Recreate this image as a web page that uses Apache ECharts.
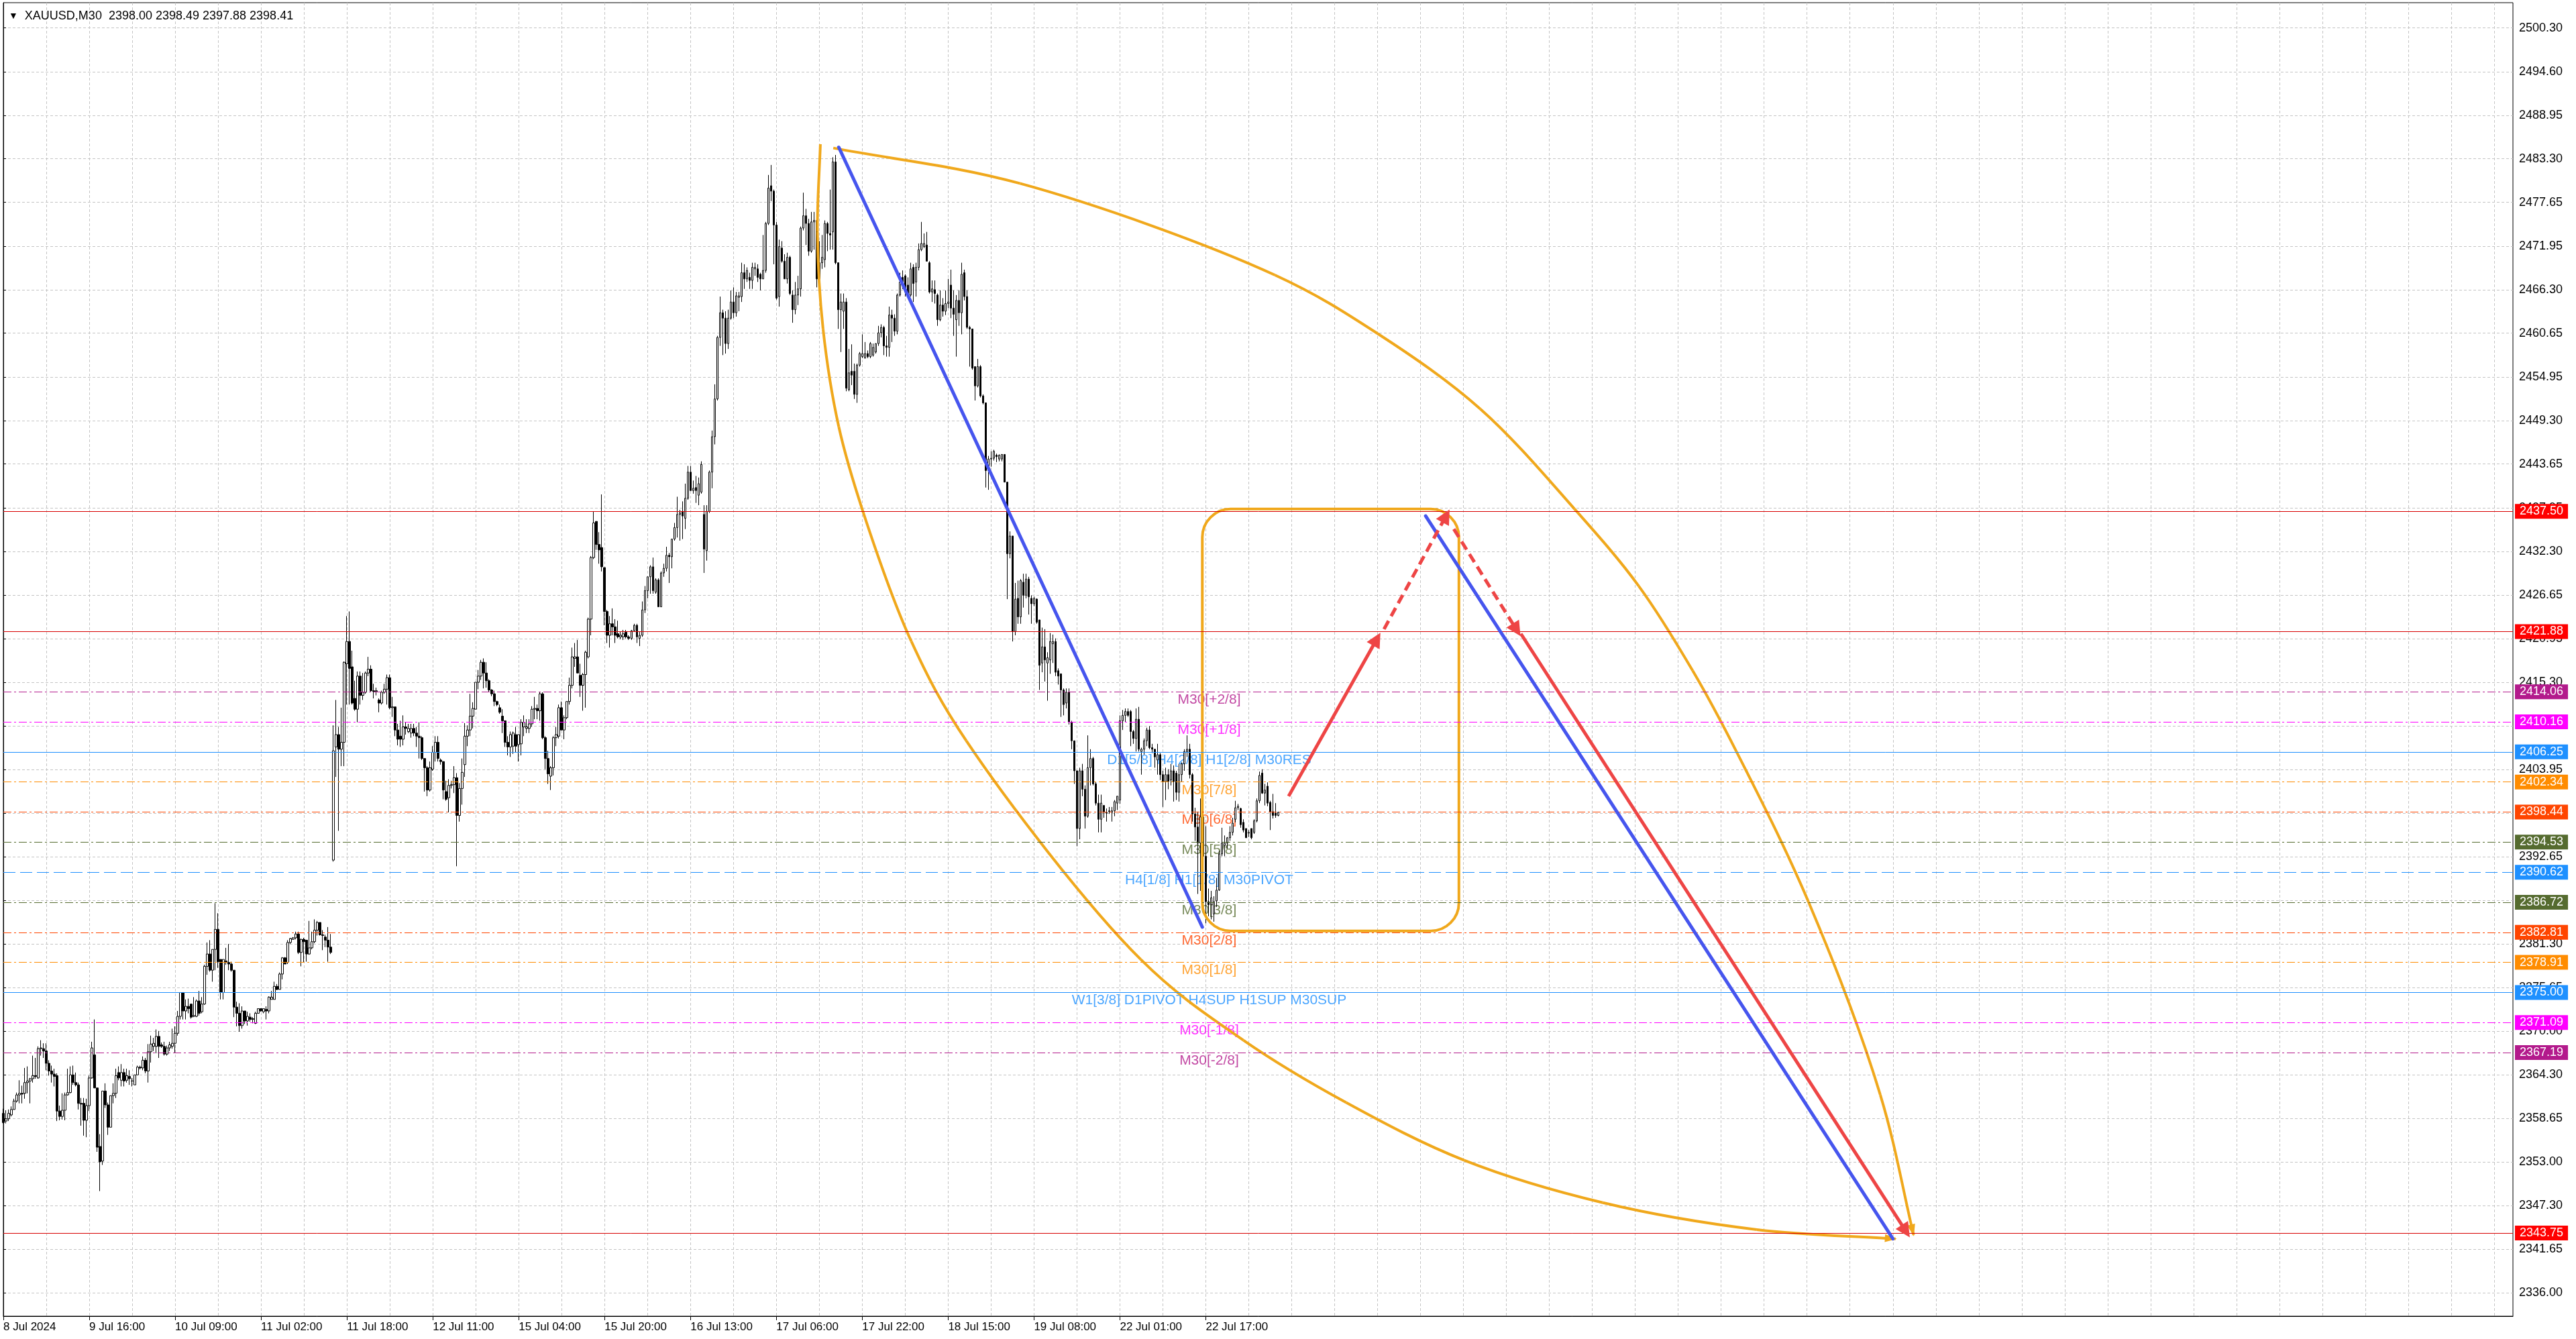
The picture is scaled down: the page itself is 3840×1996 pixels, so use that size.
<!DOCTYPE html>
<html><head><meta charset="utf-8">
<script src="https://cdn.jsdelivr.net/npm/echarts@6/dist/echarts.min.js"></script>
<style>html,body{margin:0;padding:0;background:#fff;overflow:hidden}#c{width:3840px;height:1996px}</style>
</head><body><div id="c"></div><script>
// ---------- data ----------
const header = 'XAUUSD,M30  2398.00 2398.49 2397.88 2398.41';
const timeLabels = ['8 Jul 2024','9 Jul 16:00','10 Jul 09:00','11 Jul 02:00','11 Jul 18:00','12 Jul 11:00','15 Jul 04:00','15 Jul 20:00','16 Jul 13:00','17 Jul 06:00','17 Jul 22:00','18 Jul 15:00','19 Jul 08:00','22 Jul 01:00','22 Jul 17:00'];
const barsPerLabel = 32;
const barsPerGrid = 16;
const totalSlots = 936;
const yTickLabels = [2336.00,2341.65,2347.30,2353.00,2358.65,2364.30,2370.00,2375.65,2381.30,2387.00,2392.65,2398.30,2403.95,2409.65,2415.30,2420.95,2426.65,2432.30,2437.95,2443.65,2449.30,2454.95,2460.65,2466.30,2471.95,2477.65,2483.30,2488.95,2494.60,2500.30];
const yMin = 2332.95, yMax = 2503.58;
// [open, high, low, close] per M30 bar
const ohlc = [
[2359.3,2359.9,2358.0,2358.1],[2358.3,2359.7,2358.0,2358.6],[2358.6,2359.8,2358.3,2359.3],[2359.1,2360.2,2358.9,2359.8],[2359.8,2361.2,2359.8,2360.9],
[2360.9,2362.0,2360.7,2361.7],[2361.7,2363.6,2360.6,2361.9],[2361.9,2362.9,2360.6,2361.8],[2361.9,2365.2,2361.2,2363.3],[2363.3,2365.4,2361.9,2363.5],
[2363.5,2363.9,2360.6,2363.8],[2363.8,2366.8,2363.3,2364.2],[2364.2,2366.5,2363.8,2364.1],[2363.9,2368.0,2363.8,2367.7],[2367.7,2368.8,2366.8,2367.8],
[2367.7,2368.4,2366.5,2367.4],[2367.4,2368.4,2364.9,2365.8],[2365.8,2366.2,2364.2,2364.8],[2364.8,2365.5,2363.3,2364.4],[2364.4,2365.1,2362.8,2364.1],
[2364.2,2364.5,2358.3,2359.6],[2359.6,2360.3,2358.4,2358.9],[2358.9,2361.9,2358.5,2359.7],[2359.7,2362.0,2358.4,2361.7],[2361.7,2365.1,2361.6,2362.0],
[2362.0,2365.4,2361.9,2364.3],[2364.3,2365.5,2363.0,2363.3],[2363.3,2364.6,2362.8,2363.0],[2363.0,2363.3,2359.8,2360.6],[2360.6,2361.3,2357.7,2360.5],
[2360.6,2361.3,2356.4,2358.4],[2358.4,2361.2,2356.2,2360.3],[2360.3,2364.2,2359.6,2363.9],[2363.9,2368.6,2363.8,2367.8],[2366.9,2371.5,2362.6,2362.6],
[2362.6,2362.6,2354.3,2354.9],[2355.0,2356.6,2349.2,2353.0],[2353.1,2362.2,2352.6,2362.2],[2362.2,2363.2,2360.0,2360.4],[2360.4,2360.7,2356.5,2357.5],
[2357.5,2361.6,2357.5,2361.6],[2361.6,2363.2,2360.6,2361.9],[2361.9,2365.1,2361.3,2364.2],[2364.6,2365.4,2363.6,2363.9],[2363.6,2365.7,2362.8,2364.6],
[2364.6,2365.1,2362.8,2363.5],[2363.6,2365.1,2363.3,2364.2],[2364.1,2364.9,2363.0,2363.8],[2363.5,2363.9,2362.8,2363.5],[2363.0,2364.3,2363.0,2364.3],
[2364.3,2365.5,2364.3,2365.3],[2365.3,2365.5,2365.0,2365.2],[2365.2,2366.7,2364.9,2366.2],[2366.2,2366.5,2364.5,2364.8],[2364.8,2368.3,2363.3,2367.3],
[2367.3,2369.4,2365.9,2368.3],[2368.0,2369.1,2367.4,2368.4],[2368.0,2370.2,2367.1,2369.3],[2369.3,2370.0,2366.5,2368.0],[2368.2,2368.5,2367.8,2368.0],
[2368.0,2368.6,2366.8,2367.0],[2367.0,2368.1,2366.8,2367.8],[2367.8,2368.6,2367.4,2368.2],[2368.0,2370.3,2367.7,2368.4],[2368.4,2370.6,2367.2,2369.7],
[2369.7,2372.6,2369.4,2371.9],[2371.9,2375.0,2371.5,2375.0],[2375.0,2375.0,2371.5,2372.6],[2372.6,2374.1,2371.5,2373.2],[2373.2,2374.2,2372.3,2372.9],
[2373.5,2373.5,2371.6,2371.8],[2371.9,2374.4,2371.8,2372.0],[2371.9,2374.1,2371.8,2373.9],[2373.9,2375.2,2372.0,2372.3],[2372.5,2374.4,2372.3,2373.5],
[2373.5,2378.6,2373.4,2378.4],[2378.4,2381.5,2377.3,2380.0],[2380.0,2381.8,2377.7,2377.9],[2377.9,2380.6,2376.4,2380.6],[2380.6,2386.6,2377.9,2383.2],
[2383.2,2385.3,2378.2,2379.0],[2379.3,2379.3,2374.1,2375.0],[2375.0,2379.3,2374.1,2379.3],[2379.1,2380.8,2378.6,2378.9],[2378.9,2381.3,2377.9,2378.7],
[2378.7,2379.0,2377.7,2377.9],[2377.9,2377.9,2371.8,2373.1],[2373.1,2373.8,2370.6,2372.3],[2372.3,2373.6,2369.9,2370.7],[2370.7,2373.2,2370.3,2372.6],
[2372.6,2372.6,2370.9,2371.3],[2371.3,2372.5,2370.7,2371.9],[2371.8,2372.3,2371.2,2371.5],[2371.5,2371.8,2371.0,2371.6],[2371.0,2372.5,2370.9,2372.3],
[2372.3,2372.9,2372.3,2372.9],[2372.9,2372.9,2372.5,2372.6],[2372.5,2372.9,2372.3,2372.9],[2372.8,2373.2,2371.5,2372.6],[2372.6,2374.5,2372.3,2374.4],
[2374.1,2375.2,2374.1,2374.4],[2374.1,2376.4,2374.1,2375.8],[2375.8,2376.1,2375.3,2375.4],[2375.4,2377.6,2375.4,2377.4],[2377.4,2379.6,2376.7,2379.5],
[2379.5,2379.6,2378.7,2378.7],[2378.9,2381.8,2378.7,2381.5],[2381.5,2382.1,2381.3,2382.0],[2381.9,2382.2,2381.9,2382.1],[2382.1,2382.9,2381.9,2382.6],
[2382.6,2382.9,2380.0,2380.2],[2380.2,2382.0,2378.4,2381.9],[2381.9,2382.1,2378.9,2381.6],[2381.8,2381.8,2379.0,2380.0],[2380.0,2384.3,2379.9,2380.8],
[2380.8,2382.9,2380.6,2381.6],[2381.6,2384.5,2381.4,2383.1],[2383.1,2384.3,2382.4,2384.1],[2384.1,2384.1,2382.4,2382.5],[2382.5,2383.1,2380.5,2382.4],
[2382.2,2382.5,2380.9,2381.8],[2381.8,2383.5,2379.0,2380.9],[2380.9,2382.6,2380.0,2380.2],[2392.2,2409.7,2392.0,2406.4],[2406.9,2413.0,2403.0,2408.5],
[2408.5,2409.5,2396.0,2406.6],[2406.6,2412.0,2404.4,2407.5],[2407.5,2418.0,2404.4,2417.9],[2417.7,2423.9,2412.4,2420.6],[2420.6,2424.5,2412.4,2417.1],
[2417.3,2419.4,2412.4,2412.6],[2413.2,2415.5,2411.6,2411.8],[2411.8,2416.7,2410.1,2416.1],[2416.1,2416.7,2412.4,2413.6],[2413.6,2416.5,2413.0,2414.0],
[2414.0,2416.7,2413.8,2416.5],[2416.5,2418.6,2416.1,2417.0],[2417.0,2417.5,2414.0,2414.2],[2414.2,2415.1,2413.2,2414.1],[2414.1,2414.6,2413.6,2414.2],
[2413.0,2413.2,2411.4,2412.6],[2412.6,2414.2,2412.4,2414.0],[2414.0,2415.1,2413.8,2414.4],[2414.4,2416.3,2412.4,2415.9],[2415.9,2416.3,2411.8,2412.0],
[2412.0,2413.4,2410.8,2412.1],[2412.1,2412.1,2408.3,2409.1],[2409.1,2409.9,2407.1,2407.9],[2408.3,2410.3,2406.9,2407.9],[2407.9,2411.0,2407.1,2409.5],
[2409.5,2410.1,2408.5,2409.3],[2408.9,2409.9,2408.7,2409.3],[2408.7,2409.9,2408.1,2409.3],[2409.3,2409.9,2408.3,2408.7],[2408.7,2409.5,2406.9,2408.3],
[2408.3,2410.1,2405.4,2408.1],[2408.1,2408.3,2405.2,2405.4],[2405.4,2405.4,2401.1,2404.2],[2404.2,2404.4,2400.5,2401.3],[2401.3,2405.0,2401.1,2404.2],
[2404.0,2407.0,2403.8,2406.2],[2406.2,2408.3,2405.0,2407.5],[2407.5,2408.3,2405.0,2405.4],[2405.2,2405.4,2404.6,2405.0],[2405.0,2405.0,2400.1,2401.3],
[2401.1,2402.5,2399.9,2400.1],[2400.3,2402.7,2398.4,2401.9],[2401.9,2402.5,2401.5,2402.0],[2402.0,2404.4,2400.9,2402.9],[2402.9,2403.5,2391.4,2398.0],
[2398.0,2402.2,2397.2,2401.5],[2401.5,2405.4,2399.4,2403.6],[2404.6,2410.0,2403.0,2408.3],[2408.3,2409.7,2407.0,2409.1],[2409.1,2413.8,2408.3,2410.9],
[2410.9,2412.7,2409.3,2411.9],[2411.8,2415.3,2411.8,2415.3],[2415.3,2416.9,2414.4,2416.1],[2416.1,2418.2,2415.6,2417.9],[2417.9,2418.4,2414.5,2416.5],
[2416.5,2417.9,2414.6,2415.5],[2415.5,2415.7,2414.0,2414.3],[2414.3,2414.4,2413.5,2413.8],[2413.8,2414.2,2412.2,2412.8],[2412.8,2412.9,2412.2,2412.4],
[2412.0,2412.4,2411.2,2411.4],[2410.9,2411.8,2408.7,2410.3],[2410.3,2410.3,2406.9,2407.5],[2407.5,2408.3,2405.8,2406.9],[2406.9,2408.9,2405.6,2408.5],
[2407.0,2408.9,2406.0,2408.7],[2408.5,2409.5,2406.2,2407.0],[2407.2,2408.5,2405.0,2408.5],[2407.3,2410.5,2405.8,2410.1],[2409.5,2411.0,2408.3,2410.1],
[2409.3,2410.5,2408.7,2409.5],[2409.3,2410.5,2408.7,2409.9],[2409.9,2412.2,2409.5,2411.8],[2411.8,2413.4,2410.5,2411.9],[2411.9,2412.4,2410.5,2411.6],
[2411.6,2414.0,2410.3,2413.8],[2413.8,2414.0,2407.9,2408.1],[2408.1,2408.3,2404.0,2405.4],[2405.4,2406.4,2402.1,2403.4],[2403.1,2404.4,2401.3,2404.2],
[2404.2,2408.3,2403.2,2408.1],[2408.1,2409.5,2407.0,2408.5],[2408.3,2412.4,2408.0,2412.0],[2412.0,2412.8,2409.1,2409.1],[2409.1,2411.0,2407.9,2410.7],
[2410.7,2412.8,2410.5,2412.8],[2412.8,2415.9,2412.4,2414.9],[2414.9,2419.8,2414.5,2418.6],[2418.4,2420.4,2417.3,2418.6],[2418.6,2420.8,2416.5,2416.5],
[2416.2,2417.7,2413.4,2414.9],[2414.9,2416.5,2411.6,2416.3],[2416.3,2419.4,2412.0,2419.2],[2418.6,2423.7,2418.4,2423.5],[2423.5,2431.7,2421.4,2431.5],
[2431.5,2437.5,2431.3,2436.0],[2436.2,2436.2,2432.5,2433.2],[2433.2,2434.8,2430.7,2432.5],[2432.8,2439.7,2429.7,2430.3],[2430.2,2430.2,2422.7,2424.5],
[2424.5,2424.7,2420.4,2421.4],[2421.4,2423.9,2419.8,2422.9],[2422.9,2424.9,2421.4,2422.5],[2422.5,2423.5,2420.4,2421.4],[2421.6,2423.3,2421.0,2421.2],
[2421.2,2421.9,2420.9,2421.4],[2421.2,2422.1,2420.8,2421.6],[2421.8,2422.1,2421.0,2421.2],[2421.2,2421.4,2420.8,2421.0],[2421.0,2422.1,2420.8,2422.0],
[2422.0,2422.9,2421.9,2422.7],[2422.7,2422.9,2420.4,2421.2],[2421.0,2421.9,2420.0,2421.4],[2421.4,2425.8,2421.2,2424.7],[2424.7,2427.8,2424.3,2427.2],
[2427.2,2429.0,2426.2,2429.0],[2429.0,2430.5,2426.8,2430.3],[2430.3,2431.5,2426.8,2427.2],[2427.0,2428.8,2426.8,2428.6],[2428.6,2428.8,2425.1,2425.1],
[2425.1,2429.7,2425.1,2429.5],[2429.5,2430.7,2429.0,2430.1],[2430.1,2432.9,2429.7,2431.8],[2431.8,2432.1,2428.2,2431.6],[2431.6,2433.9,2430.1,2433.9],
[2433.9,2436.0,2433.7,2435.4],[2435.4,2439.4,2434.1,2437.1],[2437.1,2437.7,2433.7,2437.3],[2437.5,2438.8,2433.9,2436.9],[2436.6,2441.1,2435.2,2439.2],
[2439.2,2443.4,2439.0,2442.6],[2442.6,2443.4,2440.2,2440.2],[2440.2,2441.5,2439.8,2440.5],[2440.6,2442.1,2438.6,2440.2],[2439.6,2441.9,2438.3,2441.1],
[2440.0,2444.0,2439.8,2443.6],[2437.1,2438.3,2429.5,2432.6],[2432.4,2438.3,2431.1,2437.5],[2437.5,2442.8,2437.3,2442.6],[2442.6,2448.0,2440.5,2447.2],
[2447.2,2454.0,2446.2,2452.1],[2452.1,2460.3,2451.9,2460.1],[2460.1,2465.4,2459.0,2463.3],[2463.3,2463.7,2457.8,2462.6],[2462.6,2463.5,2458.0,2459.3],
[2459.3,2463.7,2458.6,2462.6],[2462.6,2466.2,2462.4,2464.7],[2464.7,2466.6,2462.6,2463.3],[2463.3,2466.0,2462.8,2465.5],[2465.3,2466.0,2463.5,2465.5],
[2465.4,2469.8,2464.7,2468.5],[2468.5,2469.6,2466.4,2467.7],[2467.7,2469.2,2467.3,2468.8],[2467.9,2468.5,2466.4,2467.5],[2467.5,2469.8,2466.4,2469.2],
[2469.0,2469.8,2468.1,2469.2],[2469.0,2469.6,2467.3,2467.9],[2468.3,2468.5,2466.2,2467.7],[2467.7,2473.4,2467.7,2468.8],[2468.8,2475.1,2468.5,2474.9],
[2474.9,2481.2,2474.7,2479.5],[2479.8,2482.5,2477.8,2479.1],[2479.1,2479.3,2469.6,2474.7],[2474.7,2475.1,2465.0,2465.2],[2465.4,2472.8,2464.1,2471.9],
[2471.7,2472.6,2469.8,2470.0],[2470.0,2470.9,2467.7,2467.7],[2467.7,2471.1,2467.1,2470.5],[2470.5,2470.7,2465.6,2465.8],[2465.6,2466.2,2462.0,2463.7],
[2463.7,2467.3,2463.1,2465.6],[2465.6,2468.1,2464.3,2466.4],[2466.4,2474.5,2465.4,2474.3],[2474.3,2478.9,2474.0,2475.9],[2475.9,2476.8,2472.1,2474.9],
[2474.9,2475.5,2470.7,2471.3],[2471.3,2476.4,2471.1,2475.1],[2475.1,2476.4,2471.5,2475.3],[2475.3,2475.3,2466.6,2467.7],[2467.7,2472.6,2467.1,2469.8],
[2469.8,2473.4,2469.0,2470.5],[2470.2,2475.3,2469.2,2474.9],[2474.9,2475.1,2471.3,2473.6],[2473.6,2479.3,2471.5,2473.4],[2473.8,2483.5,2471.5,2482.9],
[2482.9,2483.8,2469.6,2469.8],[2469.8,2469.8,2461.2,2463.7],[2463.7,2465.8,2458.2,2464.7],[2463.5,2465.8,2461.2,2464.7],[2464.7,2465.2,2453.1,2453.5],
[2453.3,2458.6,2453.1,2455.5],[2455.7,2459.2,2453.9,2455.2],[2455.7,2456.7,2452.1,2452.7],[2452.7,2456.7,2451.6,2456.5],[2456.5,2458.2,2456.3,2458.0],
[2457.6,2460.5,2457.4,2458.0],[2457.4,2459.5,2457.4,2458.0],[2458.0,2458.4,2457.4,2457.6],[2457.6,2459.5,2457.4,2459.3],[2457.8,2459.3,2457.6,2458.8],
[2458.2,2459.3,2458.0,2459.3],[2459.3,2461.6,2459.0,2460.7],[2460.7,2461.8,2460.1,2461.4],[2461.4,2461.6,2457.8,2459.0],[2459.0,2460.3,2457.6,2458.8],
[2458.8,2464.1,2457.6,2463.0],[2463.0,2463.7,2459.5,2462.6],[2462.6,2463.1,2460.3,2460.9],[2460.9,2465.8,2460.5,2465.6],[2465.6,2468.5,2465.4,2467.3],
[2467.9,2468.8,2466.4,2467.1],[2468.1,2468.3,2465.4,2466.0],[2466.9,2467.9,2465.4,2465.8],[2465.6,2469.8,2465.4,2469.0],[2469.2,2469.6,2464.7,2467.1],
[2467.3,2469.8,2465.4,2469.2],[2469.2,2472.3,2468.8,2471.5],[2471.5,2475.1,2471.3,2472.3],[2471.9,2473.6,2471.7,2472.3],[2472.1,2473.8,2470.0,2470.0],
[2469.8,2470.0,2465.8,2466.0],[2466.0,2467.5,2464.7,2466.4],[2466.3,2467.5,2464.5,2465.8],[2465.6,2465.8,2461.6,2462.4],[2462.4,2466.2,2462.2,2464.3],
[2464.3,2465.2,2462.8,2463.5],[2463.5,2466.2,2463.0,2464.5],[2464.5,2467.7,2463.9,2464.7],[2466.9,2468.9,2462.6,2463.9],[2463.9,2466.2,2460.3,2463.1],
[2462.4,2465.6,2457.6,2464.9],[2464.9,2466.2,2461.6,2463.3],[2463.3,2469.8,2460.5,2468.3],[2468.5,2468.9,2464.9,2465.4],[2465.4,2466.2,2461.2,2461.4],
[2461.4,2461.6,2456.3,2461.2],[2461.2,2461.2,2455.9,2456.1],[2456.3,2456.3,2451.9,2453.8],[2453.8,2457.3,2453.6,2456.3],[2456.3,2456.5,2452.3,2452.5],
[2452.5,2452.7,2451.4,2451.6],[2451.6,2451.6,2440.6,2442.8],[2442.8,2444.7,2440.3,2444.3],[2444.3,2445.3,2443.3,2444.4],[2444.4,2445.5,2444.1,2445.3],
[2444.8,2445.0,2443.9,2444.6],[2444.3,2444.9,2444.0,2444.8],[2444.3,2444.9,2444.0,2444.9],[2444.9,2444.9,2441.3,2441.3],[2441.3,2441.3,2426.1,2432.0],
[2432.0,2434.9,2431.4,2434.3],[2434.3,2434.3,2420.6,2421.9],[2421.9,2428.2,2421.4,2426.1],[2426.2,2428.5,2422.9,2423.8],[2423.8,2428.7,2422.9,2428.5],
[2428.3,2429.4,2425.0,2426.6],[2426.6,2429.4,2426.2,2428.7],[2428.7,2429.0,2424.1,2426.4],[2426.2,2426.6,2422.9,2425.5],[2425.5,2426.4,2425.2,2426.2],
[2426.1,2426.2,2422.9,2423.1],[2423.4,2423.4,2414.3,2417.5],[2417.8,2422.4,2416.6,2419.9],[2419.9,2422.2,2415.4,2418.2],[2417.8,2419.2,2412.9,2418.5],
[2418.2,2421.7,2416.4,2420.6],[2420.3,2421.5,2417.8,2420.6],[2420.6,2421.0,2416.1,2416.6],[2416.8,2417.1,2415.0,2416.1],[2416.4,2416.4,2410.8,2414.3],
[2414.3,2414.5,2411.0,2412.4],[2412.6,2414.5,2411.9,2414.0],[2414.0,2414.5,2409.8,2410.1],[2410.1,2410.3,2406.6,2407.7],[2407.7,2407.7,2402.1,2403.8],
[2403.8,2403.8,2394.0,2396.3],[2396.3,2404.2,2394.9,2403.8],[2403.8,2404.7,2400.5,2401.4],[2401.4,2401.9,2396.3,2397.9],[2397.9,2408.4,2397.7,2404.2],
[2404.2,2406.6,2401.9,2405.4],[2405.4,2405.6,2401.9,2402.1],[2402.1,2402.4,2399.3,2399.6],[2399.6,2400.7,2395.8,2397.5],[2397.5,2400.7,2395.8,2399.6],
[2399.3,2399.3,2397.7,2398.4],[2398.4,2398.9,2397.2,2398.3],[2398.5,2399.1,2398.2,2398.6],[2398.4,2399.1,2397.2,2398.6],[2398.6,2400.0,2397.9,2399.8],
[2399.6,2400.5,2398.7,2400.5],[2400.0,2411.0,2399.5,2410.3],[2410.3,2411.7,2409.1,2411.0],[2411.0,2411.9,2410.1,2411.5],[2411.5,2411.9,2410.8,2411.0],
[2411.5,2411.7,2407.0,2408.9],[2408.9,2409.1,2407.3,2408.0],[2408.0,2411.9,2406.3,2410.5],[2410.5,2412.1,2406.3,2406.6],[2406.3,2406.8,2403.3,2406.6],
[2406.6,2408.0,2405.9,2407.7],[2407.7,2409.4,2407.0,2409.1],[2409.1,2409.6,2406.6,2406.8],[2406.8,2407.3,2406.1,2406.6],[2406.6,2406.6,2404.2,2405.6],
[2405.2,2407.3,2403.3,2405.9],[2405.9,2406.1,2402.6,2403.3],[2403.3,2403.8,2399.1,2402.4],[2402.4,2404.2,2400.0,2403.3],[2403.3,2404.0,2401.4,2402.4],
[2402.6,2404.7,2401.9,2403.8],[2403.8,2404.5,2399.8,2402.4],[2403.5,2403.8,2400.0,2401.0],[2401.0,2404.7,2399.8,2403.3],[2403.3,2404.9,2402.4,2404.7],
[2404.7,2406.6,2403.8,2406.3],[2406.3,2408.4,2405.6,2406.6],[2406.6,2407.3,2402.8,2403.3],[2403.3,2403.5,2397.2,2398.2],[2398.2,2399.0,2394.7,2396.5],
[2396.5,2398.5,2387.8,2394.4],[2394.4,2400.2,2388.2,2397.8],[2397.8,2399.0,2389.5,2392.7],[2392.7,2396.6,2384.0,2386.8],[2386.8,2388.5,2384.9,2386.4],
[2386.4,2388.2,2384.5,2387.3],[2385.2,2387.5,2384.2,2386.8],[2386.9,2389.9,2386.1,2388.3],[2388.3,2393.4,2388.2,2393.0],[2393.0,2396.4,2392.7,2394.4],
[2394.1,2395.4,2392.7,2394.4],[2394.4,2395.2,2393.7,2395.1],[2395.1,2396.6,2394.7,2395.8],[2395.8,2397.7,2395.4,2397.0],[2397.5,2399.9,2397.1,2399.0],
[2399.0,2399.5,2398.7,2399.2],[2398.9,2399.0,2396.4,2396.8],[2397.1,2397.5,2395.8,2396.1],[2396.3,2396.3,2395.1,2395.1],[2395.7,2396.1,2395.2,2395.8],
[2396.3,2396.3,2394.9,2395.1],[2395.8,2397.5,2395.6,2397.3],[2397.3,2400.2,2397.1,2399.9],[2399.9,2403.7,2399.6,2403.2],[2403.5,2404.0,2400.8,2400.9],
[2400.9,2402.1,2399.3,2401.3],[2401.8,2402.3,2399.2,2399.6],[2399.7,2399.9,2396.1,2398.5],[2398.5,2400.8,2397.6,2398.0],[2398.3,2399.6,2397.7,2398.0],
[2398.00,2398.49,2397.88,2398.41]
];
const levelPrices = [2437.50,2421.88,2414.06,2410.16,2406.25,2402.34,2398.44,2394.53,2390.62,2386.72,2382.81,2378.91,2375.00,2371.09,2367.19,2343.75];
const levelNames = ['','','M30[+2/8]','M30[+1/8]','D1[5/8] H4[2/8] H1[2/8] M30RES','M30[7/8]','M30[6/8]','M30[5/8]','H4[1/8] H1[1/8] M30PIVOT','M30[3/8]','M30[2/8]','M30[1/8]','W1[3/8] D1PIVOT H4SUP H1SUP M30SUP','M30[-1/8]','M30[-2/8]',''];
const currentPrice = 2398.41;
const levelNameBar = 449.25;
// drawings: [bar1, price1, bar2, price2]
const blueLines = [[311.25,2484.8,446.7,2383.5],[529.9,2436.9,704.0,2343.0]];
const solidArrows = [[478.85,2400.5,511.7,2420.9],[565.4,2421.6,708.8,2344.0]];
const dashedArrows = [[514.4,2422.2,537.5,2436.9],[540.4,2435.2,563.8,2422.1]];
const zoneRect = [446.7,2437.8,542.3,2383.0];
const leftArc = [[304.4,2485.2],[303.3,2473.8],[305.4,2461.2],[311.25,2448.5],[320.25,2437.5],[338.3,2420.6],[358.75,2407.7],[423.75,2379.3],[462.0,2368.8],[500.3,2360.7],[544.3,2353.2],[595.9,2347.7],[653.3,2344.2],[705.0,2343.0]];
const rightArc = [[309.2,2484.7],[378.75,2480.1],[473.75,2468.2],[512.0,2460.6],[550.3,2450.8],[585.4,2437.8],[609.3,2427.8],[629.4,2416.8],[645.7,2406.3],[672.5,2386.8],[699.3,2361.7],[711.7,2343.5]];
const arcs = [leftArc, rightArc];

// ---------- styles ----------
const FONT = '"Liberation Sans", Arial, sans-serif';
const RED = '#FF0000', PURPLE = '#B31A8C', MAGENTA = '#FF00FF', BLUE = '#1E90FF', ORANGE = '#FF8C00', ORED = '#FF4500', OLIVE = '#556B2F';
const levelColors = [RED,RED,PURPLE,MAGENTA,BLUE,ORANGE,ORED,OLIVE,BLUE,OLIVE,ORED,ORANGE,BLUE,MAGENTA,PURPLE,RED];
const DASHDOT = [12,4,3,4];
const levelTypes = ['solid','solid',DASHDOT,DASHDOT,'solid',DASHDOT,DASHDOT,DASHDOT,[18,7],DASHDOT,DASHDOT,DASHDOT,'solid',DASHDOT,DASHDOT,'solid'];
const DRAW_BLUE = '#4655EE', DRAW_RED = '#EE4545', DRAW_ORANGE = '#F0A81C';

const chart = echarts.init(document.getElementById('c'), null, {renderer: 'canvas'});
const categories = Array.from({length: totalSlots}, (_, i) => String(i));
const labelInterval = (i) => i % barsPerLabel === 0 && i / barsPerLabel < timeLabels.length;

const markLineData = [];
levelPrices.forEach((p, i) => {
  if (p === 2398.44) {
    markLineData.push({yAxis: currentPrice, lineStyle: {opacity: 0}, label: {show: true, position: 'end', distance: 3, formatter: currentPrice.toFixed(2), backgroundColor: '#000', color: '#fff', padding: [6,7,2,7], fontSize: 18, fontFamily: FONT, offset: [0,-3]}});
  }
  markLineData.push({
    yAxis: p,
    lineStyle: {color: levelColors[i] === RED ? '#D80000' : levelColors[i], width: 1, type: levelTypes[i]},
    label: {show: true, position: 'end', distance: 3, formatter: p.toFixed(2), backgroundColor: levelColors[i], color: '#fff', padding: [3,7,1,7], fontSize: 18, fontFamily: FONT}
  });
});

const nameData = [];
levelPrices.forEach((p, i) => {
  if (!levelNames[i]) return;
  nameData.push({value: [levelNameBar, p], label: {show: true, formatter: levelNames[i], color: levelColors[i]}});
});

const seg = (a) => ({coords: [[a[0], a[1]], [a[2], a[3]]]});

// centripetal Catmull-Rom through pixel points -> bezier segments
function splineChildren(pts, color, width) {
  const P = pts.slice();
  const first = [2 * P[0][0] - P[1][0], 2 * P[0][1] - P[1][1]];
  const n = P.length;
  const last = [2 * P[n - 1][0] - P[n - 2][0], 2 * P[n - 1][1] - P[n - 2][1]];
  const Q = [first].concat(P, [last]);
  const children = [];
  let lastCp = null;
  for (let i = 1; i < Q.length - 2; i++) {
    const p0 = Q[i - 1], p1 = Q[i], p2 = Q[i + 1], p3 = Q[i + 2];
    const d1 = Math.pow(Math.hypot(p1[0] - p0[0], p1[1] - p0[1]), 0.5) || 1e-6;
    const d2 = Math.pow(Math.hypot(p2[0] - p1[0], p2[1] - p1[1]), 0.5) || 1e-6;
    const d3 = Math.pow(Math.hypot(p3[0] - p2[0], p3[1] - p2[1]), 0.5) || 1e-6;
    const b1 = [0, 1].map(k => (d1 * d1 * p2[k] - d2 * d2 * p0[k] + (2 * d1 * d1 + 3 * d1 * d2 + d2 * d2) * p1[k]) / (3 * d1 * (d1 + d2)));
    const b2 = [0, 1].map(k => (d3 * d3 * p1[k] - d2 * d2 * p3[k] + (2 * d3 * d3 + 3 * d3 * d2 + d2 * d2) * p2[k]) / (3 * d3 * (d3 + d2)));
    children.push({type: 'bezierCurve', shape: {x1: p1[0], y1: p1[1], x2: p2[0], y2: p2[1], cpx1: b1[0], cpy1: b1[1], cpx2: b2[0], cpy2: b2[1]}, style: {fill: 'none', stroke: color, lineWidth: width}});
    lastCp = b2;
  }
  const end = P[n - 1];
  let dx = end[0] - lastCp[0], dy = end[1] - lastCp[1];
  const L = Math.hypot(dx, dy) || 1; dx /= L; dy /= L;
  const len = 16, half = 6;
  const bx = end[0] - dx * len, by = end[1] - dy * len;
  children.push({type: 'polygon', shape: {points: [[end[0] + dx * 2, end[1] + dy * 2], [bx - dy * half, by + dx * half], [bx + dy * half, by - dx * half]]}, style: {fill: color}});
  return children;
}

const option = {
  animation: false,
  backgroundColor: '#fff',
  title: {
    text: '{t|▼}  ' + header, left: 8, top: 10,
    textStyle: {fontSize: 18, fontWeight: 'normal', color: '#000', fontFamily: FONT, rich: {t: {fontSize: 14, color: '#000'}}}
  },
  grid: {left: 5, right: 94, top: 4, bottom: 34, show: true, borderColor: '#000', borderWidth: 1, backgroundColor: '#fff'},
  xAxis: [{
    type: 'category', data: categories, boundaryGap: false,
    axisLine: {show: true, lineStyle: {color: '#000', width: 1}},
    axisTick: {show: true, interval: labelInterval, length: 6, lineStyle: {color: '#000'}},
    axisLabel: {interval: labelInterval, formatter: (v) => timeLabels[Number(v) / barsPerLabel], align: 'left', margin: 8, fontSize: 17, color: '#000', fontFamily: FONT},
    splitLine: {show: true, interval: (i) => i % barsPerGrid === 0, lineStyle: {color: '#C4C4C4', width: 1, type: [4,3]}}
  }, {
    type: 'value', min: 0, max: totalSlots - 1, show: false
  }],
  yAxis: [{
    type: 'value', position: 'right', min: yMin, max: yMax,
    axisLine: {show: true, lineStyle: {color: '#000', width: 1}},
    axisTick: {show: true, customValues: yTickLabels, length: 4, lineStyle: {color: '#000'}},
    axisLabel: {customValues: yTickLabels, formatter: (v) => Number(v).toFixed(2), margin: 9, fontSize: 18, color: '#000', fontFamily: FONT},
    splitLine: {show: true, lineStyle: {color: '#C4C4C4', width: 1, type: [4,3]}}
  }],
  series: [
    {
      type: 'line', xAxisIndex: 1, yAxisIndex: 0, data: [], z: 1, silent: true,
      markLine: {silent: true, symbol: ['none','none'], animation: false, data: markLineData}
    },
    {
      type: 'scatter', xAxisIndex: 1, yAxisIndex: 0, z: 2, silent: true,
      symbol: 'circle', symbolSize: 1, itemStyle: {color: 'rgba(0,0,0,0)'},
      label: {show: true, position: 'bottom', distance: 1, fontSize: 21, fontFamily: FONT},
      labelLayout: {hideOverlap: false},
      data: nameData
    },
    {
      type: 'candlestick', xAxisIndex: 0, yAxisIndex: 0, z: 3, barWidth: 3,
      itemStyle: {color: '#fff', color0: '#000', borderColor: '#000', borderColor0: '#000', borderWidth: 1},
      data: ohlc.map(r => [r[0], r[3], r[2], r[1]])
    },
    {
      type: 'custom', xAxisIndex: 1, yAxisIndex: 0, z: 4, silent: true,
      renderItem: (params, api) => {
        const a = api.coord([api.value(0), api.value(1)]);
        const b = api.coord([api.value(2), api.value(3)]);
        return {type: 'rect', shape: {x: a[0], y: a[1], width: b[0] - a[0], height: b[1] - a[1], r: 42}, style: {fill: 'none', stroke: DRAW_ORANGE, lineWidth: 4}};
      },
      encode: {x: [0, 2], y: [1, 3]},
      data: [zoneRect]
    },
    {
      type: 'custom', xAxisIndex: 1, yAxisIndex: 0, z: 4, silent: true,
      renderItem: (params, api) => {
        const pts = arcs[api.value(0)].map(p => api.coord(p));
        return {type: 'group', children: splineChildren(pts, DRAW_ORANGE, 4)};
      },
      encode: {x: 0, y: 1},
      data: [[0, 2400], [1, 2400]]
    },
    {
      type: 'lines', coordinateSystem: 'cartesian2d', xAxisIndex: 1, yAxisIndex: 0, z: 5, silent: true,
      symbol: ['none', 'none'],
      lineStyle: {color: DRAW_BLUE, width: 5, curveness: 0, opacity: 1, cap: 'round'}, data: blueLines.map(seg)
    },
    {
      type: 'lines', coordinateSystem: 'cartesian2d', xAxisIndex: 1, yAxisIndex: 0, z: 5, silent: true,
      symbol: ['none', 'triangle'], symbolSize: 22,
      lineStyle: {color: DRAW_RED, width: 5, curveness: 0, opacity: 1}, data: solidArrows.map(seg)
    },
    {
      type: 'lines', coordinateSystem: 'cartesian2d', xAxisIndex: 1, yAxisIndex: 0, z: 5, silent: true,
      symbol: ['none', 'triangle'], symbolSize: 22,
      lineStyle: {color: DRAW_RED, width: 5, curveness: 0, opacity: 1, type: [14, 8]}, data: dashedArrows.map(seg)
    }
  ]
};
chart.setOption(option);
</script></body></html>
